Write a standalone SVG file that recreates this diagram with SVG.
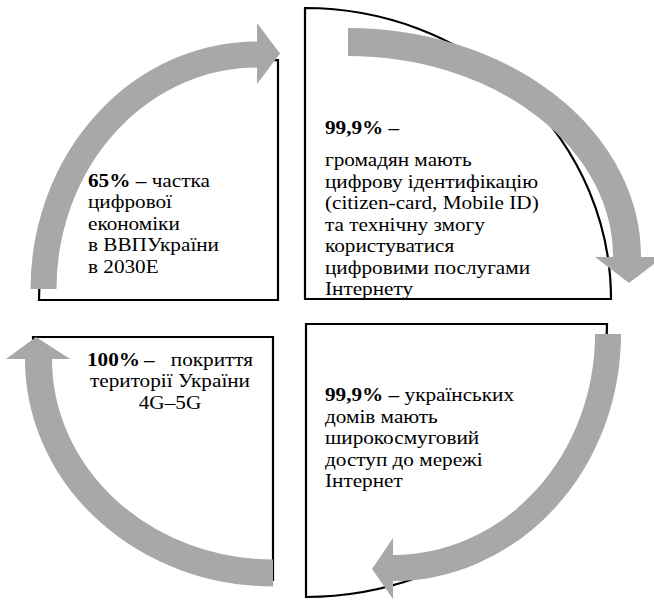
<svg xmlns="http://www.w3.org/2000/svg" width="654" height="600" viewBox="0 0 654 600">
<style>
.box{fill:#ffffff;stroke:#000000;stroke-width:2.2;stroke-linejoin:miter}
.shaft{fill:none;stroke:#a8a8a8;stroke-linecap:butt}
.head{fill:#a8a8a8;stroke:none}
text{font-family:"Liberation Serif","Times New Roman",serif;font-size:19.3px;fill:#000000}
.b{font-weight:bold}
</style>
<rect width="654" height="600" fill="#ffffff"/>
<g id="node-economy">
<path class="box" d="M 278 300 L 39 300 A 239 240 0 0 1 278 60 Z"/>
<g transform="translate(88 0) scale(1.1 1) translate(-88 0)">
<text x="88" y="187"><tspan class="b">65%</tspan> <tspan class="b">–</tspan> частка</text>
<text x="88" y="208.5">цифрової</text>
<text x="88" y="230">економіки</text>
<text x="88" y="251.5">в ВВПУкраїни</text>
<text x="88" y="273">в 2030Е</text>
</g>
</g>
<g id="node-identification">
<path class="box" d="M 305 299 L 305 8 A 306 291 0 0 1 611 299 Z"/>
<g transform="translate(325 0) scale(1.1 1) translate(-325 0)">
<text x="325" y="134" class="b">99,9% –</text>
<text x="325" y="166.5">громадян мають</text>
<text x="325" y="188">цифрову ідентифікацію</text>
<text x="325" y="209.5">(citizen-card, Mobile ID)</text>
<text x="325" y="231">та технічну змогу</text>
<text x="325" y="252.5">користуватися</text>
<text x="325" y="274">цифровими послугами</text>
<text x="325" y="295.5">Інтернету</text>
</g>
</g>
<g id="node-broadband">
<path class="box" d="M 306 324 L 607 324 A 301 273 0 0 1 306 597 Z"/>
<g transform="translate(325 0) scale(1.1 1) translate(-325 0)">
<text x="325" y="401"><tspan class="b">99,9%</tspan> <tspan class="b">–</tspan> українських</text>
<text x="325" y="423">домів мають</text>
<text x="325" y="444.5">широкосмуговий</text>
<text x="325" y="466">доступ до мережі</text>
<text x="325" y="487.5">Інтернет</text>
</g>
</g>
<g id="node-coverage">
<path class="box" d="M 273 337 L 273 580 A 240 243 0 0 1 33 337 Z"/>
<g transform="translate(170 0) scale(1.1 1) translate(-170 0)">
<text x="94.5" y="366" class="b">100%</text>
<text x="146.4" y="366" class="b">–</text>
<text x="245.5" y="366" text-anchor="end">покриття</text>
<text x="170" y="387.5" text-anchor="middle">території України</text>
<text x="170" y="409" text-anchor="middle">4G–5G</text>
</g>
</g>
<g id="connectors">
<path class="shaft" stroke-width="26" d="M 43.5 289 A 213.5 234.5 0 0 1 257.5 54.5"/>
<polygon class="head" points="257,23 280,53.5 257,84"/>
<path class="shaft" stroke-width="28" d="M 348 42 A 279 215 0 0 1 627 257.5"/>
<polygon class="head" points="595,257 629,283 663,257"/>
<path class="shaft" stroke-width="26" d="M 608 334 A 215 234 0 0 1 392.5 568"/>
<polygon class="head" points="393,538 372,569 393,599"/>
<path class="shaft" stroke-width="27" d="M 273 573 A 234.5 214 0 0 1 38.5 358.5"/>
<polygon class="head" points="6,359 36,337 70,359"/>
</g>
</svg>
